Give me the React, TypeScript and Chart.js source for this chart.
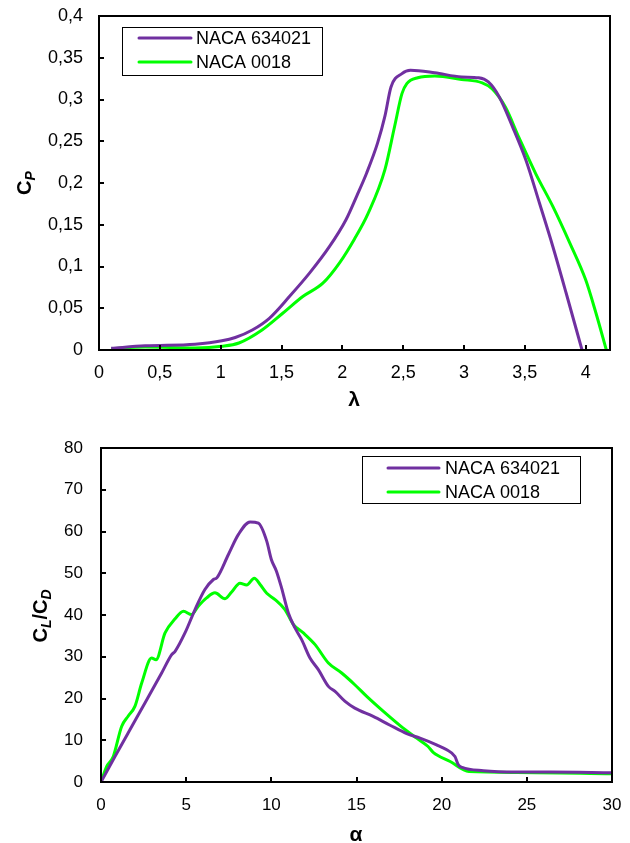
import React, { useEffect, useRef } from "react";
import { Chart, registerables } from "chart.js";

Chart.register(...registerables);

const FONT = '"Liberation Sans", Arial, Helvetica, sans-serif';

// ---- series meta ----
const seriesNames = ["NACA 634021", "NACA 0018"];
const seriesColors = ["#7030A0", "#00FF00"];

// ---- top chart: Cp vs tip speed ratio ----
const lambda634021 = [0.1, 0.38, 0.79, 1.01, 1.12, 1.26, 1.4, 1.565, 1.73, 1.895, 2.03, 2.12, 2.2, 2.29, 2.35, 2.4, 2.49, 2.56, 2.76, 2.98, 3.12, 3.2, 3.29, 3.4, 3.51, 3.62, 3.73, 3.84, 3.97];
const cp634021 = [0.002, 0.005, 0.007, 0.011, 0.015, 0.024, 0.038, 0.064, 0.092, 0.124, 0.156, 0.185, 0.212, 0.248, 0.28, 0.315, 0.331, 0.335, 0.332, 0.327, 0.326, 0.321, 0.303, 0.267, 0.227, 0.176, 0.124, 0.068, 0];

const lambda0018 = [0.1, 0.38, 0.79, 1.01, 1.15, 1.34, 1.51, 1.675, 1.84, 1.98, 2.1, 2.21, 2.35, 2.43, 2.49, 2.53, 2.62, 2.76, 2.98, 3.15, 3.23, 3.34, 3.45, 3.59, 3.73, 3.87, 4.0, 4.085, 4.17];
const cp0018 = [0.0015, 0.0035, 0.0025, 0.0044, 0.0084, 0.024, 0.044, 0.064, 0.08, 0.105, 0.133, 0.163, 0.216, 0.268, 0.307, 0.319, 0.326, 0.328, 0.324, 0.32, 0.313, 0.291, 0.255, 0.211, 0.172, 0.128, 0.084, 0.044, 0];

// ---- bottom chart: CL/CD vs angle of attack ----
const alpha634021 = [0, 0.82, 1.6, 2.58, 3.56, 4.15, 4.35, 4.93, 5.52, 6.1, 6.6, 6.8, 7.48, 8.07, 8.75, 9.24, 9.73, 10.0, 10.3, 10.6, 11.0, 11.39, 11.78, 12.27, 12.76, 13.35, 13.74, 14.33, 14.9, 15.98, 16.97, 17.95, 18.73, 19.7, 20.3, 20.78, 20.98, 21.2, 22.45, 24.4, 26.4, 30];
const ld634021 = [0, 6.1, 11.8, 18.9, 26.1, 30.5, 31.3, 35.7, 41.3, 46.1, 48.5, 48.9, 54.5, 59.3, 62.3, 62.0, 57.7, 53.3, 50.5, 46.5, 40.5, 36.9, 34.1, 29.7, 26.9, 22.9, 21.7, 19.3, 17.7, 15.7, 13.6, 11.6, 10.5, 8.9, 7.7, 6.1, 4.1, 3.5, 2.7, 2.4, 2.4, 2.2];

const alpha0018 = [0, 0.33, 0.72, 1.21, 1.6, 1.99, 2.39, 2.97, 3.23, 3.76, 4.35, 4.84, 5.32, 5.71, 6.2, 6.69, 7.28, 7.67, 8.16, 8.55, 9.0, 9.34, 9.73, 10.22, 10.8, 11.3, 11.88, 12.57, 13.35, 14.13, 14.9, 15.6, 16.58, 17.56, 18.53, 19.2, 19.5, 20.5, 21.6, 24.4, 30];
const ld0018 = [0, 3.7, 6.1, 13.3, 15.8, 18.1, 23.7, 29.7, 29.3, 35.7, 39.1, 40.9, 40.1, 42.1, 44.1, 45.3, 43.9, 45.5, 47.6, 47.2, 48.8, 47.3, 45.2, 43.7, 41.3, 37.7, 35.7, 32.9, 28.5, 26.1, 23.3, 20.5, 16.9, 13.5, 10.5, 8.5, 7.1, 4.9, 2.5, 2.3, 2.0];

// ---- axis titles (text parts; sub = subscript) ----
const topYTitle = [{ t: "C" }, { t: "P", sub: true }];
const topXTitle = "λ";
const botYTitle = [{ t: "C" }, { t: "L", sub: true }, { t: "/" }, { t: "C" }, { t: "D", sub: true }];
const botXTitle = "α";

function pts(xs: number[], ys: number[]) {
  return xs.map((x, i) => ({ x, y: ys[i] }));
}

function fmt(v: number) {
  const r = Math.round(v * 1000) / 1000;
  return String(r).replace(".", ",");
}

const framePlugin = {
  id: "frame",
  afterDatasetsDraw(chart: any, _args: any, opts: any) {
    const ctx = chart.ctx as CanvasRenderingContext2D;
    const { left, right, top, bottom } = chart.chartArea;
    const xs = chart.scales.x;
    const ys = chart.scales.y;
    ctx.save();
    // frame
    ctx.strokeStyle = "#000";
    ctx.lineWidth = 2;
    ctx.strokeRect(left, top, right - left, bottom - top);
    // inside tick marks
    ctx.beginPath();
    for (const t of ys.ticks) {
      const py = Math.round(ys.getPixelForValue(t.value));
      ctx.moveTo(left, py);
      ctx.lineTo(left + 5, py);
    }
    for (const t of xs.ticks) {
      const px = Math.round(xs.getPixelForValue(t.value));
      ctx.moveTo(px, bottom);
      ctx.lineTo(px, bottom - 5);
    }
    ctx.stroke();

    // y title (rotated, with subscripts)
    const parts = opts.yTitle as { t: string; sub?: boolean }[];
    const mainFont = `bold 20px ${FONT}`;
    const subFont = `italic bold 14px ${FONT}`;
    let total = 0;
    for (const p of parts) {
      ctx.font = p.sub ? subFont : mainFont;
      total += ctx.measureText(p.t).width;
    }
    ctx.translate(opts.yTitleX, opts.yTitleY);
    ctx.rotate(-Math.PI / 2);
    ctx.fillStyle = "#000";
    ctx.textBaseline = "alphabetic";
    ctx.textAlign = "left";
    let pos = -total / 2;
    for (const p of parts) {
      ctx.font = p.sub ? subFont : mainFont;
      ctx.fillText(p.t, pos, p.sub ? 4 : 0);
      pos += ctx.measureText(p.t).width;
    }
    ctx.setTransform(1, 0, 0, 1, 0, 0);

    // x title
    ctx.font = `bold 21px ${FONT}`;
    ctx.textAlign = "center";
    ctx.textBaseline = "middle";
    ctx.fillText(opts.xTitle, opts.xTitleX, opts.xTitleY);

    // legend
    const L = opts.legend;
    ctx.fillStyle = "#fff";
    ctx.fillRect(L.x, L.y, L.w, L.h);
    ctx.strokeStyle = "#000";
    ctx.lineWidth = 1;
    ctx.strokeRect(L.x + 0.5, L.y + 0.5, L.w, L.h);
    chart.data.datasets.forEach((ds: any, i: number) => {
      const y = L.firstY + i * L.gap;
      ctx.strokeStyle = ds.borderColor;
      ctx.lineWidth = 3;
      ctx.lineCap = "round";
      ctx.beginPath();
      ctx.moveTo(L.lineX0, y);
      ctx.lineTo(L.lineX1, y);
      ctx.stroke();
      ctx.fillStyle = "#000";
      ctx.font = `${L.fontSize}px ${FONT}`;
      ctx.textAlign = "left";
      ctx.textBaseline = "middle";
      ctx.fillText(ds.label, L.textX, y + 1);
    });
    ctx.restore();
  },
};

const hiddenGrid = (len: number) => ({
  display: true,
  drawOnChartArea: false,
  drawTicks: true,
  tickLength: len,
  color: "rgba(0,0,0,0)",
});

function makeOptions(cfg: any) {
  return {
    responsive: false,
    animation: false as const,
    events: [],
    layout: { padding: cfg.padding },
    elements: {
      point: { radius: 0 },
      line: { borderWidth: 3, tension: cfg.tension, cubicInterpolationMode: "monotone" },
    },
    plugins: {
      legend: { display: false },
      tooltip: { enabled: false },
      frame: cfg.frame,
    },
    scales: {
      x: {
        type: "linear",
        min: cfg.xMin,
        max: cfg.xMax,
        grid: hiddenGrid(cfg.xPad),
        border: { display: false },
        ticks: {
          stepSize: cfg.xStep,
          includeBounds: false,
          autoSkip: false,
          maxRotation: 0,
          padding: 0,
          color: "#000",
          font: { size: cfg.fontSize, family: FONT },
          callback: (v: any) => fmt(Number(v)),
        },
        afterFit: (s: any) => {
          s.height = cfg.xHeight;
        },
      },
      y: {
        type: "linear",
        min: cfg.yMin,
        max: cfg.yMax,
        grid: hiddenGrid(cfg.yPad),
        border: { display: false },
        ticks: {
          stepSize: cfg.yStep,
          includeBounds: false,
          autoSkip: false,
          padding: 0,
          color: "#000",
          font: { size: cfg.fontSize, family: FONT },
          callback: (v: any) => fmt(Number(v)),
        },
        afterFit: (s: any) => {
          s.width = cfg.yWidth;
        },
      },
    },
  };
}

function datasets(a: { x: number[]; y: number[] }[]) {
  return a.map((s, i) => ({
    label: seriesNames[i],
    data: pts(s.x, s.y),
    borderColor: seriesColors[i],
    backgroundColor: seriesColors[i],
    fill: false,
  }));
}

export default function App() {
  const topRef = useRef<HTMLCanvasElement>(null);
  const botRef = useRef<HTMLCanvasElement>(null);

  useEffect(() => {
    const top = new Chart(topRef.current!, {
      type: "line",
      data: {
        datasets: datasets([
          { x: lambda634021, y: cp634021 },
          { x: lambda0018, y: cp0018 },
        ]),
      },
      options: makeOptions({
        padding: { top: 16, right: 20, left: 0, bottom: 0 },
        tension: 0.4,
        xMin: 0,
        xMax: 4.2,
        xStep: 0.5,
        yMin: 0,
        yMax: 0.4,
        yStep: 0.05,
        xPad: 12,
        yPad: 16,
        xHeight: 70,
        yWidth: 99,
        fontSize: 18,
        frame: {
          yTitle: topYTitle,
          yTitleX: 31,
          yTitleY: 183,
          xTitle: topXTitle,
          xTitleX: 354,
          xTitleY: 400,
          legend: { x: 122, y: 27, w: 200, h: 48, firstY: 38, gap: 24, lineX0: 139, lineX1: 191, textX: 196, fontSize: 18 },
        },
      }) as any,
      plugins: [framePlugin],
    });

    const bot = new Chart(botRef.current!, {
      type: "line",
      data: {
        datasets: datasets([
          { x: alpha634021, y: ld634021 },
          { x: alpha0018, y: ld0018 },
        ]),
      },
      options: makeOptions({
        padding: { top: 28, right: 18, left: 0, bottom: 0 },
        tension: 0.3,
        xMin: 0,
        xMax: 30,
        xStep: 5,
        yMin: 0,
        yMax: 80,
        yStep: 10,
        xPad: 13,
        yPad: 18,
        xHeight: 61,
        yWidth: 101,
        fontSize: 17,
        frame: {
          yTitle: botYTitle,
          yTitleX: 47,
          yTitleY: 196,
          xTitle: botXTitle,
          xTitleX: 356,
          xTitleY: 415,
          legend: { x: 362, y: 36, w: 218, h: 47, firstY: 48, gap: 24, lineX0: 388, lineX1: 439, textX: 445, fontSize: 18 },
        },
      }) as any,
      plugins: [framePlugin],
    });

    return () => {
      top.destroy();
      bot.destroy();
    };
  }, []);

  return (
    <div style={{ position: "absolute", left: 0, top: 0, width: 630, height: 843, background: "#fff" }}>
      <canvas ref={topRef} width={630} height={420} style={{ position: "absolute", left: 0, top: 0, display: "block" }} />
      <canvas ref={botRef} width={630} height={423} style={{ position: "absolute", left: 0, top: 420, display: "block" }} />
    </div>
  );
}
